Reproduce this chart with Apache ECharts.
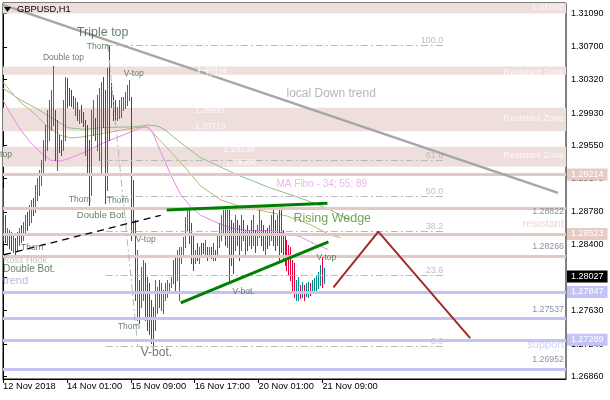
<!DOCTYPE html>
<html><head><meta charset="utf-8">
<script src="https://cdn.jsdelivr.net/npm/echarts@6/dist/echarts.min.js"></script>
<style>html,body{margin:0;padding:0;background:#fff}#c{width:610px;height:400px}</style>
</head><body><div id="c"></div>
<script>
// ---------- data ----------
const xTickPos = [0, 32, 64, 96, 128, 160];
const xTickLabels = ['12 Nov 2018', '14 Nov 01:00', '15 Nov 09:00', '16 Nov 17:00', '20 Nov 01:00', '21 Nov 09:00'];
const yTickValues = [1.3109, 1.3070, 1.3032, 1.2993, 1.2955, 1.2917, 1.2878, 1.2840, 1.2802, 1.2763, 1.2724, 1.2686];
const yTickLabels = ['1.31090', '1.30700', '1.30320', '1.29930', '1.29550', '1.29170', '1.28780', '1.28400', '1.28020', '1.27630', '1.27240', '1.26860'];

// H1 bars (high, low, direction u=bull d=bear)
const highs = [1.2906,1.2874,1.2859,1.2857,1.2855,1.2851,1.2847,1.2855,1.2859,1.2863,
1.2866,1.2874,1.2878,1.2886,1.2892,1.2894,1.2909,1.2917,1.2927,1.2938,
1.2962,1.2979,1.2997,1.3008,1.3020,1.3048,1.2997,1.2985,1.2967,1.2962,
1.3008,1.3035,1.3034,1.3022,1.3020,1.3013,1.3011,1.3006,1.2997,1.3002,
1.2994,1.2985,1.2979,1.2962,1.2997,1.3008,1.2987,1.3014,1.3022,1.3029,
1.3035,1.3020,1.3046,1.3072,1.3028,1.3014,1.3008,1.3000,1.3008,1.3012,
1.3012,1.3018,1.3026,1.3032,1.3012,1.2915,1.2868,1.2834,1.2799,1.2814,
1.2822,1.2818,1.2802,1.2795,1.2775,1.2767,1.2799,1.2790,1.2799,1.2795,
1.2787,1.2795,1.2799,1.2795,1.2802,1.2822,1.2825,1.2834,1.2837,1.2837,
1.2849,1.2872,1.2880,1.2880,1.2865,1.2853,1.2834,1.2842,1.2837,1.2842,
1.2842,1.2845,1.2837,1.2837,1.2837,1.2842,1.2834,1.2851,1.2865,1.2874,
1.2884,1.2880,1.2884,1.2880,1.2868,1.2865,1.2874,1.2868,1.2863,1.2874,
1.2868,1.2857,1.2863,1.2857,1.2868,1.2874,1.2857,1.2863,1.2884,1.2868,
1.2863,1.2857,1.2859,1.2863,1.2874,1.2880,1.2868,1.2874,1.2884,1.2886,
1.2857,1.2851,1.2845,1.2839,1.2837,1.2822,1.2818,1.2799,1.2802,1.2793,
1.2796,1.2793,1.2795,1.2796,1.2795,1.2799,1.2801,1.2804,1.2808,1.2816,
1.2824,1.2813];
const lows = [1.2845,1.2843,1.2839,1.2836,1.2834,1.2831,1.2829,1.2834,1.2839,1.2843,
1.2845,1.2851,1.2857,1.2863,1.2866,1.2874,1.2878,1.2892,1.2898,1.2909,
1.2921,1.2938,1.2950,1.2962,1.2973,1.2979,1.2938,1.2927,1.2948,1.2944,
1.2950,1.2962,1.3000,1.3002,1.3001,1.2999,1.2991,1.2985,1.2981,1.2983,
1.2978,1.2944,1.2921,1.2886,1.2898,1.2967,1.2962,1.2950,1.2938,1.2921,
1.2977,1.2888,1.2903,1.2962,1.3000,1.2985,1.2981,1.2985,1.2987,1.2988,
1.2997,1.2999,1.3002,1.3008,1.2845,1.2851,1.2775,1.2752,1.2749,1.2767,
1.2775,1.2752,1.2740,1.2736,1.2725,1.2723,1.2740,1.2760,1.2767,1.2764,
1.2760,1.2775,1.2779,1.2787,1.2790,1.2795,1.2787,1.2799,1.2775,1.2818,
1.2825,1.2837,1.2857,1.2842,1.2818,1.2810,1.2818,1.2822,1.2818,1.2825,
1.2830,1.2825,1.2822,1.2825,1.2824,1.2822,1.2822,1.2828,1.2837,1.2845,
1.2853,1.2839,1.2837,1.2799,1.2816,1.2807,1.2834,1.2839,1.2822,1.2834,
1.2845,1.2828,1.2834,1.2839,1.2836,1.2839,1.2831,1.2839,1.2849,1.2839,
1.2834,1.2828,1.2836,1.2839,1.2845,1.2839,1.2834,1.2839,1.2822,1.2831,
1.2822,1.2816,1.2810,1.2804,1.2799,1.2787,1.2779,1.2775,1.2775,1.2778,
1.2779,1.2775,1.2780,1.2779,1.2781,1.2785,1.2787,1.2785,1.2789,1.2793,
1.2790,1.2795];
const dirs = ('ddudduduud' + 'uuduuduuuu' + 'uuuuuududd' + 'uuddddudud' + 'dddduuduuu' +
  'ddudddduuu' + 'uuuudddudu' + 'uddddduudu' + 'uuuuuuduuu' + 'uuudddudud' +
  'dudududuuu' + 'ududdduddu' + 'dudududuud' + 'duduuddudd' + 'ddddddduud' +
  'uduuduuuuu' + 'du').split('');

// Moving averages (MA Fibo 34 / 55 / 89): [bar, price]
const ma34 = [[0,1.3008],[4,1.2991],[9,1.2973],[14,1.2958],[19,1.2947],[24,1.2938],[29,1.2937],[34,1.2941],[41.5,1.2948],[49,1.2957],[56.5,1.2964],[64,1.2971],[69,1.2976],[72,1.2977],[75,1.2970],[79,1.2948],[84,1.2921],[89,1.2898],[94,1.2884],[99,1.2874],[106.5,1.2866],[114,1.2859],[124,1.2856],[134,1.2856],[141.5,1.2853],[149,1.2849],[156.5,1.2840],[163,1.2834]];
const ma55 = [[0,1.3029],[4,1.3018],[9,1.3005],[15.5,1.2993],[21.5,1.2979],[29,1.2967],[34,1.2964],[39,1.2965],[49,1.2969],[59,1.2973],[66.5,1.2976],[72.5,1.2977],[77.5,1.2964],[84,1.2948],[91.5,1.2929],[99,1.2908],[109,1.2892],[119,1.2884],[132.5,1.2878],[142.5,1.2873],[154,1.2863],[164,1.2851],[169,1.2848]];
const ma89 = [[0,1.3022],[9,1.3008],[15.5,1.3000],[24,1.2988],[32.5,1.2976],[40.5,1.2974],[49,1.2976],[65.5,1.2977],[72.5,1.2979],[77.5,1.2978],[81.5,1.2973],[85.5,1.2965],[91.5,1.2954],[99,1.2941],[115.5,1.2923],[132.5,1.2907],[149,1.2894],[162.5,1.2882],[174,1.2868]];

// Horizontal levels and zones
const resistLines = [1.29214, 1.28822, 1.28523, 1.28266];
const resistBoxed = [1.29214, 1.28523];
const supportLines = [1.27847, 1.27537, 1.27289, 1.26952];
const supportBoxed = [1.27847, 1.27289];
const resistZones = [[1.31212, 1.31090], [1.30472, 1.30375], [1.29991, 1.29719], [1.29538, 1.29306]];
const lastPrice = 1.28027;
const xSpan = [0, 282];

// Fibonacci retracement
const fibHigh = 1.30717, fibLow = 1.27217;
const fibLevels = [0, 23.6, 38.2, 50, 61.8, 100];
const fibFrom = 51.5, fibTo = 220.5;
const fibDiag = [[52.5, 1.3072], [67.5, 1.2722]];

// Drawn trend lines
const downTrend = [[0, 1.3119], [278, 1.2900]];
const blackTrend = [[0.5, 1.2828], [79, 1.2874]];
const wedgeTop = [[82, 1.2880], [162.5, 1.2888]];
const wedgeBottom = [[89, 1.2772], [163, 1.2843]];
const projection = [[165.5, 1.2790], [188, 1.2855], [234, 1.2731]];

// Text annotations [bar, price, text, kind]
const notes = [
  [37, 1.3087, 'Triple top', 'big'],
  [42, 1.3070, 'Thorn', 'sm'],
  [20, 1.3057, 'Double top', 'sm'],
  [60.5, 1.3039, 'V-top', 'sm'],
  [-5.5, 1.2944, 'V-top', 'sm'],
  [33, 1.2892, 'Thorn', 'sm'],
  [52, 1.2891, 'Thorn', 'sm'],
  [37, 1.2874, 'Double Bot.', 'mid'],
  [9, 1.2836, 'Thorn', 'sm'],
  [0, 1.2821, 'Ross Hook', 'ross'],
  [0, 1.2811, 'Double Bot.', 'mid2'],
  [0, 1.2797, 'trend', 'trend'],
  [66.5, 1.2846, 'V-top', 'sm'],
  [57.5, 1.2744, 'Thorn', 'sm'],
  [69, 1.2714, 'V-bot.', 'big2'],
  [115, 1.2785, 'V-bot.', 'sm'],
  [157, 1.2825, 'V-top', 'sm'],
  [145.5, 1.2870, 'Rising Wedge', 'wedge'],
  [137, 1.2910, 'MA Fibo - 34; 55; 89', 'ma'],
  [142, 1.3016, 'local Down trend', 'gray'],
  [281, 1.31154, '1.31090', 'white'],
  [281, 1.30408, 'Resistant Zone', 'white'],
  [281, 1.29861, 'Resistant Zone', 'white'],
  [281, 1.29430, 'Resistant Zone', 'white'],
  [281, 1.28778, '1.28822', 'price'],
  [281, 1.28370, '1.28266', 'price'],
  [281, 1.27637, '1.27537', 'price'],
  [281, 1.27054, '1.26952', 'price'],
  [281, 1.28638, 'resistant', 'resist'],
  [281, 1.27229, 'support', 'support'],
  [97, 1.30443, '1.30472', 'whiteL'],
  [97, 1.30385, '1.30375', 'whiteL'],
  [96, 1.29960, '1.29991', 'whiteL'],
  [96, 1.29768, '1.29719', 'whiteL'],
  [110.5, 1.29500, '1.29538', 'whiteL'],
  [111.5, 1.29349, '1.29306', 'whiteL']
];

// ---------- styles ----------
const FONT = '"Liberation Sans", Arial, sans-serif';
const UP = '#008a8a', DOWN = '#e6003c';
const PINK_BAND = '#efdfdc', PINK_LINE = '#e3c9c3', LAV_LINE = '#c3c3f5';
const kinds = {
  big:   {color: '#3c5e3e', fontSize: 12.5, align: 'left'},
  big2:  {color: '#3c5e3e', fontSize: 12, align: 'left'},
  sm:    {color: '#3c5e3e', fontSize: 8.5, align: 'left'},
  mid:   {color: '#3c5e3e', fontSize: 9.5, align: 'left'},
  mid2:  {color: '#3c5e3e', fontSize: 10, align: 'left'},
  ross:  {color: '#b4b4b4', fontSize: 9, align: 'left'},
  trend: {color: '#a0a8c8', fontSize: 11, align: 'left'},
  wedge: {color: '#4d8a2e', fontSize: 12.5, align: 'left'},
  ma:    {color: '#e8a2e8', fontSize: 10, align: 'left'},
  gray:  {color: '#a4a4a4', fontSize: 12, align: 'left'},
  white: {color: '#ffffff', fontSize: 9, align: 'right'},
  whiteL:{color: '#ffffff', fontSize: 8.5, align: 'left'},
  price: {color: '#6e7890', fontSize: 8.8, align: 'right'},
  resist:{color: '#e8d0cb', fontSize: 11, align: 'right'},
  support:{color: '#c4c4f4', fontSize: 11, align: 'right'}
};

// ---------- build ----------
const candleData = highs.map((h, i) => [i, lows[i], h, dirs[i] === 'u' ? 1 : 0]);

function renderCandle(params, api) {
  const i = api.value(0);
  const top = api.coord([i, api.value(2)]);
  const bot = api.coord([i, api.value(1)]);
  const x = Math.round(top[0]);
  const y = Math.round(top[1]);
  return {type: 'rect', shape: {x: x, y: y, width: 1, height: Math.max(1, Math.round(bot[1]) - y + 1)},
    style: {fill: api.value(3) ? UP : DOWN, stroke: null}};
}

function boxLabel(text, bg) {
  return {show: true, position: 'end', distance: 1, formatter: text, backgroundColor: bg, color: '#fff',
    padding: [2, 4, 1, 4], fontSize: 9, fontFamily: FONT, opacity: 1};
}
function hLine(p, color, boxed, boxBg) {
  return [
    {coord: [xSpan[0], p], lineStyle: {color: color, width: 3, type: 'solid'},
      label: boxed ? boxLabel(p.toFixed(5), boxBg) : {show: false}},
    {coord: [xSpan[1], p]}
  ];
}
const levelLines = [];
resistLines.forEach(p => levelLines.push(hLine(p, PINK_LINE, resistBoxed.includes(p), '#e6cac4')));
supportLines.forEach(p => levelLines.push(hLine(p, LAV_LINE, supportBoxed.includes(p), '#c3c3f5')));
levelLines.push(hLine(lastPrice, 'rgba(255,255,255,0)', true, '#000'));

const fibLines = fibLevels.map(l => {
  const p = fibLow + (fibHigh - fibLow) * l / 100;
  return [{coord: [fibFrom, p]}, {coord: [fibTo, p]}];
});
const fibTexts = fibLevels.map(l => ({
  value: [fibTo, fibLow + (fibHigh - fibLow) * l / 100],
  label: {show: true, position: [0, 0], align: 'right', verticalAlign: 'bottom', formatter: l.toFixed(1),
    color: '#b0b0b0', fontSize: 9, fontFamily: FONT}
}));

const noteData = notes.map(n => {
  const k = kinds[n[3]];
  return {value: [n[0], n[1]], label: {show: true, position: [0, 0], align: k.align, verticalAlign: 'middle',
    formatter: n[2], color: k.color, fontSize: k.fontSize, fontFamily: FONT}};
});

function lineSeries(data, color, width, type, z) {
  return {type: 'line', data: data, symbol: 'none', silent: true, z: z || 3, clip: false,
    lineStyle: {color: color, width: width, type: type || 'solid'}, animation: false};
}

const chart = echarts.init(document.getElementById('c'), null, {renderer: 'canvas'});
chart.setOption({
  animation: false,
  backgroundColor: '#ffffff',
  textStyle: {fontFamily: FONT},
  grid: {left: 2, right: 44, top: 3, bottom: 21, show: true, borderColor: '#000', borderWidth: 1, backgroundColor: '#fff'},
  xAxis: {
    type: 'value', min: 0, max: 282, position: 'bottom',
    axisLine: {show: true, lineStyle: {color: '#000', width: 1}},
    axisTick: {show: true, length: 4, customValues: xTickPos, lineStyle: {color: '#000'}},
    axisLabel: {customValues: xTickPos, align: 'left', margin: 3, fontSize: 9.3, color: '#000', fontFamily: FONT,
      formatter: v => xTickLabels[xTickPos.indexOf(Math.round(v))] || ''},
    splitLine: {show: false}
  },
  yAxis: {
    type: 'value', min: 1.26833, max: 1.31212, position: 'right', scale: true,
    axisLine: {show: true, lineStyle: {color: '#000', width: 1}},
    axisTick: {show: true, length: 4, customValues: yTickValues, lineStyle: {color: '#000'}},
    axisLabel: {customValues: yTickValues, margin: 5, fontSize: 9, color: '#000', fontFamily: FONT,
      formatter: v => {
        let best = 0;
        yTickValues.forEach((t, i) => { if (Math.abs(t - v) < Math.abs(yTickValues[best] - v)) best = i; });
        return yTickLabels[best];
      }},
    splitLine: {show: false}
  },
  series: [
    { // zones
      type: 'line', data: [], silent: true, z: 1,
      markArea: {silent: true, data: resistZones.map(z => [{yAxis: z[0], itemStyle: {color: PINK_BAND}}, {yAxis: z[1]}])}
    },
    { // levels
      type: 'line', data: [], silent: true, z: 2,
      markLine: {silent: true, symbol: ['none', 'none'], animation: false, data: levelLines}
    },
    { // fibonacci
      type: 'line', data: [], silent: true, z: 2,
      markLine: {silent: true, symbol: ['none', 'none'], animation: false, label: {show: false},
        lineStyle: {color: '#b8b8b8', width: 1, type: [7, 3, 2, 3]},
        data: fibLines.concat([[{coord: fibDiag[0]}, {coord: fibDiag[1]}]])}
    },
    {type: 'scatter', data: fibTexts, symbolSize: 0, z: 3, silent: true, clip: false},
    lineSeries(ma89, '#8fbc8f', 1, 'solid', 3),
    lineSeries(ma55, '#bdb76b', 1, 'solid', 3),
    lineSeries(ma34, '#e58be8', 1, 'solid', 3),
    {type: 'custom', data: candleData, renderItem: renderCandle, encode: {x: 0, y: [1, 2]}, z: 4, silent: true, clip: true},
    lineSeries(downTrend, '#a6a6a6', 2.5, 'solid', 5),
    lineSeries(blackTrend, '#000000', 1.3, [7, 5], 5),
    lineSeries(wedgeTop, '#008000', 3, 'solid', 5),
    lineSeries(wedgeBottom, '#008000', 3, 'solid', 5),
    lineSeries(projection, '#a52a2a', 2, 'solid', 5),
    {type: 'scatter', data: noteData, symbolSize: 0, z: 6, silent: true, clip: false}
  ],
  graphic: [
    {type: 'polygon', shape: {points: [[4, 7], [11, 7], [7.5, 12]]}, style: {fill: '#000'}, z: 10},
    {type: 'text', left: 17, top: 5, style: {text: 'GBPUSD,H1', fill: '#000', font: '9.3px ' + FONT}, z: 10}
  ]
});
</script>
</body></html>
